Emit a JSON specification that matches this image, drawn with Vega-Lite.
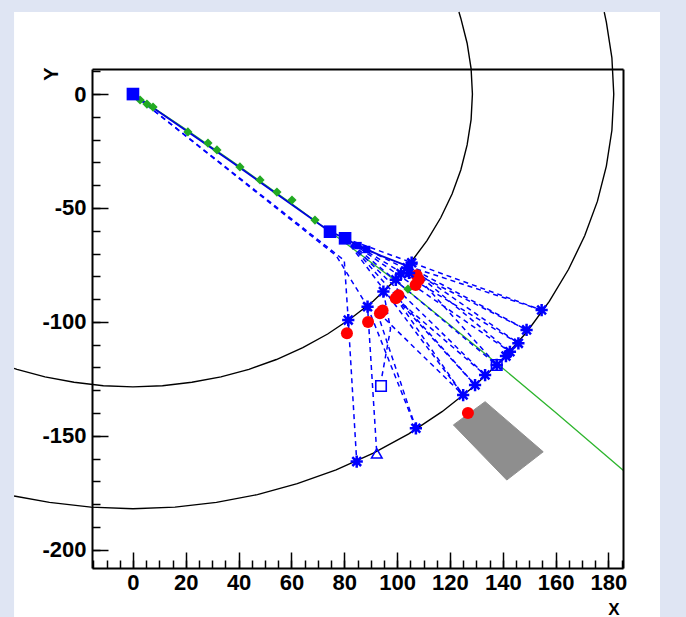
{
  "$schema": "https://vega.github.io/schema/vega-lite/v6.json",
  "width": 531,
  "height": 499,
  "autosize": {"type": "none"},
  "padding": {"left": 92, "top": 69, "right": 63, "bottom": 49},
  "background": "#dfe5f3",
  "config": {"view": {"stroke": null}, "axis": {"grid": false}},
  "resolve": {"axis": {"x": "independent", "y": "independent"}},
  "datasets": {
    "pad": [{"x0": -45, "x1": 199.5, "y0": -240, "y1": 36}],
    "cell": [
      {"i": 0, "x": 121.3, "y": -145.2},
      {"i": 1, "x": 133.3, "y": -135.0},
      {"i": 2, "x": 155.3, "y": -157.0},
      {"i": 3, "x": 141.5, "y": -169.4}
    ],
    "rings": [
      {"r": "in", "i": 0, "x": 123.4, "y": 36},
      {"r": "in", "i": 1, "x": 124.1, "y": 33.3},
      {"r": "in", "i": 2, "x": 126.5, "y": 22.3},
      {"r": "in", "i": 3, "x": 128.0, "y": 11.2},
      {"r": "in", "i": 4, "x": 128.5, "y": 0},
      {"r": "in", "i": 5, "x": 128.0, "y": -11.2},
      {"r": "in", "i": 6, "x": 126.5, "y": -22.3},
      {"r": "in", "i": 7, "x": 124.1, "y": -33.3},
      {"r": "in", "i": 8, "x": 120.8, "y": -43.9},
      {"r": "in", "i": 9, "x": 116.5, "y": -54.3},
      {"r": "in", "i": 10, "x": 111.3, "y": -64.3},
      {"r": "in", "i": 11, "x": 105.3, "y": -73.7},
      {"r": "in", "i": 12, "x": 98.4, "y": -82.6},
      {"r": "in", "i": 13, "x": 90.9, "y": -90.9},
      {"r": "in", "i": 14, "x": 82.6, "y": -98.4},
      {"r": "in", "i": 15, "x": 73.7, "y": -105.3},
      {"r": "in", "i": 16, "x": 64.3, "y": -111.3},
      {"r": "in", "i": 17, "x": 54.3, "y": -116.5},
      {"r": "in", "i": 18, "x": 43.9, "y": -120.8},
      {"r": "in", "i": 19, "x": 33.3, "y": -124.1},
      {"r": "in", "i": 20, "x": 22.3, "y": -126.5},
      {"r": "in", "i": 21, "x": 11.2, "y": -128.0},
      {"r": "in", "i": 22, "x": 0, "y": -128.5},
      {"r": "in", "i": 23, "x": -11.2, "y": -128.0},
      {"r": "in", "i": 24, "x": -22.3, "y": -126.5},
      {"r": "in", "i": 25, "x": -33.3, "y": -124.1},
      {"r": "in", "i": 26, "x": -43.9, "y": -120.8},
      {"r": "in", "i": 27, "x": -45, "y": -120.4},
      {"r": "out", "i": 0, "x": 178.4, "y": 36},
      {"r": "out", "i": 1, "x": 179.2, "y": 31.6},
      {"r": "out", "i": 2, "x": 181.3, "y": 15.9},
      {"r": "out", "i": 3, "x": 182, "y": 0},
      {"r": "out", "i": 4, "x": 181.3, "y": -15.9},
      {"r": "out", "i": 5, "x": 179.2, "y": -31.6},
      {"r": "out", "i": 6, "x": 175.8, "y": -47.1},
      {"r": "out", "i": 7, "x": 171.0, "y": -62.2},
      {"r": "out", "i": 8, "x": 164.9, "y": -76.9},
      {"r": "out", "i": 9, "x": 157.6, "y": -91.0},
      {"r": "out", "i": 10, "x": 149.1, "y": -104.4},
      {"r": "out", "i": 11, "x": 139.4, "y": -117.0},
      {"r": "out", "i": 12, "x": 128.7, "y": -128.7},
      {"r": "out", "i": 13, "x": 117.0, "y": -139.4},
      {"r": "out", "i": 14, "x": 104.4, "y": -149.1},
      {"r": "out", "i": 15, "x": 91.0, "y": -157.6},
      {"r": "out", "i": 16, "x": 76.9, "y": -164.9},
      {"r": "out", "i": 17, "x": 62.2, "y": -171.0},
      {"r": "out", "i": 18, "x": 47.1, "y": -175.8},
      {"r": "out", "i": 19, "x": 31.6, "y": -179.2},
      {"r": "out", "i": 20, "x": 15.9, "y": -181.3},
      {"r": "out", "i": 21, "x": 0, "y": -182},
      {"r": "out", "i": 22, "x": -15.9, "y": -181.3},
      {"r": "out", "i": 23, "x": -31.6, "y": -179.2},
      {"r": "out", "i": 24, "x": -45, "y": -176.4}
    ],
    "green": [
      {"i": 0, "x": 0, "y": 0},
      {"i": 1, "x": 20, "y": -15.5},
      {"i": 2, "x": 40, "y": -31.5},
      {"i": 3, "x": 60, "y": -48},
      {"i": 4, "x": 80, "y": -65},
      {"i": 5, "x": 100, "y": -82.5},
      {"i": 6, "x": 120, "y": -101.3},
      {"i": 7, "x": 140, "y": -120.3},
      {"i": 8, "x": 160, "y": -139.8},
      {"i": 9, "x": 186, "y": -165.5},
      {"i": 10, "x": 195, "y": -174.5}
    ],
    "track": [
      {"i": 0, "x": 0, "y": 0},
      {"i": 1, "x": 37, "y": -29.5},
      {"i": 2, "x": 74.6, "y": -60.4},
      {"i": 3, "x": 80.3, "y": -63.3},
      {"i": 4, "x": 85.2, "y": -66.5},
      {"i": 5, "x": 94, "y": -71},
      {"i": 6, "x": 104, "y": -75.5}
    ],
    "dash": [
      {"s": 1, "i": 0, "x": 0, "y": 0}, {"s": 1, "i": 1, "x": 80, "y": -73}, {"s": 1, "i": 2, "x": 81.5, "y": -99.2}, {"s": 1, "i": 3, "x": 84.7, "y": -161.3},
      {"s": 2, "i": 0, "x": 0, "y": 0}, {"s": 2, "i": 1, "x": 77, "y": -71}, {"s": 2, "i": 2, "x": 88.8, "y": -93.3}, {"s": 2, "i": 3, "x": 92.3, "y": -157.7},
      {"s": 3, "i": 0, "x": 94.8, "y": -86.7}, {"s": 3, "i": 1, "x": 97.5, "y": -103}, {"s": 3, "i": 2, "x": 94, "y": -125.5},
      {"s": 4, "i": 0, "x": 88.8, "y": -93.3}, {"s": 4, "i": 1, "x": 107.1, "y": -146.7},
      {"s": 5, "i": 0, "x": 92.5, "y": -96}, {"s": 5, "i": 1, "x": 107.1, "y": -146.7},
      {"s": 6, "i": 0, "x": 80.3, "y": -63.3}, {"s": 6, "i": 1, "x": 154.7, "y": -94.8},
      {"s": 7, "i": 0, "x": 80.3, "y": -63.3}, {"s": 7, "i": 1, "x": 149.0, "y": -103.5},
      {"s": 8, "i": 0, "x": 80.3, "y": -63.3}, {"s": 8, "i": 1, "x": 145.9, "y": -109.4},
      {"s": 9, "i": 0, "x": 80.3, "y": -63.3}, {"s": 9, "i": 1, "x": 142.7, "y": -113.1},
      {"s": 10, "i": 0, "x": 80.3, "y": -63.3}, {"s": 10, "i": 1, "x": 137.7, "y": -118.9},
      {"s": 11, "i": 0, "x": 80.3, "y": -63.3}, {"s": 11, "i": 1, "x": 133.3, "y": -123.3},
      {"s": 12, "i": 0, "x": 80.3, "y": -63.3}, {"s": 12, "i": 1, "x": 129.5, "y": -127.7},
      {"s": 13, "i": 0, "x": 80.3, "y": -63.3}, {"s": 13, "i": 1, "x": 125.0, "y": -132.1},
      {"s": 14, "i": 0, "x": 104, "y": -75.5}, {"s": 14, "i": 1, "x": 154.7, "y": -94.8},
      {"s": 15, "i": 0, "x": 104, "y": -75.5}, {"s": 15, "i": 1, "x": 149.0, "y": -103.5},
      {"s": 16, "i": 0, "x": 104, "y": -75.5}, {"s": 16, "i": 1, "x": 145.9, "y": -109.4},
      {"s": 17, "i": 0, "x": 104, "y": -75.5}, {"s": 17, "i": 1, "x": 142.7, "y": -113.1},
      {"s": 18, "i": 0, "x": 104, "y": -75.5}, {"s": 18, "i": 1, "x": 137.7, "y": -118.9},
      {"s": 19, "i": 0, "x": 99.5, "y": -89.5}, {"s": 19, "i": 1, "x": 133.3, "y": -123.3},
      {"s": 20, "i": 0, "x": 99.5, "y": -89.5}, {"s": 20, "i": 1, "x": 129.5, "y": -127.7},
      {"s": 21, "i": 0, "x": 99.5, "y": -89.5}, {"s": 21, "i": 1, "x": 125.0, "y": -132.1},
      {"s": 22, "i": 0, "x": 93, "y": -96}, {"s": 22, "i": 1, "x": 125.0, "y": -132.1}
    ],
    "greenpts": [
      {"x": 2.7, "y": -2.6}, {"x": 5.3, "y": -4.4}, {"x": 7.6, "y": -5.7},
      {"x": 20.8, "y": -16.6}, {"x": 28.4, "y": -21.5}, {"x": 31.8, "y": -24.5},
      {"x": 40.5, "y": -32.0}, {"x": 48.1, "y": -37.7}, {"x": 54.5, "y": -43.0},
      {"x": 60.2, "y": -46.5}, {"x": 68.9, "y": -55.3}, {"x": 104.1, "y": -85.6}
    ],
    "red": [
      {"x": 107.4, "y": -79.5}, {"x": 108.2, "y": -81.5}, {"x": 107.0, "y": -83.8}, {"x": 99.5, "y": -89.6}, {"x": 100.5, "y": -88.3},
      {"x": 93.5, "y": -96.2}, {"x": 94.5, "y": -95.0}, {"x": 89.0, "y": -100.0}, {"x": 81.0, "y": -105.0},
      {"x": 126.8, "y": -140.0}
    ],
    "stars": [
      {"x": 105.5, "y": -74}, {"x": 103.8, "y": -76.2}, {"x": 101.5, "y": -78.8}, {"x": 99.5, "y": -81.5}, {"x": 104.5, "y": -78.5},
      {"x": 94.8, "y": -86.7}, {"x": 88.8, "y": -93.3}, {"x": 81.5, "y": -99.2},
      {"x": 154.7, "y": -94.8}, {"x": 149.0, "y": -103.5}, {"x": 145.9, "y": -109.4}, {"x": 142.7, "y": -113.1}, {"x": 141.2, "y": -115.0},
      {"x": 137.7, "y": -118.9}, {"x": 133.3, "y": -123.3}, {"x": 129.5, "y": -127.7}, {"x": 125.0, "y": -132.1},
      {"x": 107.1, "y": -146.7}, {"x": 84.7, "y": -161.3}
    ],
    "squares": [
      {"k": "vtx", "x": 0, "y": 0},
      {"k": "vtx", "x": 74.6, "y": -60.4},
      {"k": "vtx", "x": 80.3, "y": -63.3},
      {"k": "hit", "x": 85.2, "y": -66.5},
      {"k": "hit", "x": 88.5, "y": -68.2}
    ],
    "open": [
      {"k": "box", "x": 93.9, "y": -128.1},
      {"k": "box", "x": 137.7, "y": -118.9},
      {"k": "tri", "x": 92.3, "y": -157.7}
    ]
  },
  "layer": [
    {
      "data": {"name": "pad"},
      "mark": {"type": "rect", "fill": "white", "clip": false},
      "encoding": {
        "x": {"field": "x0", "type": "quantitative", "scale": {"domain": [-15.5, 185.5], "nice": false, "zero": false},
          "axis": {"orient": "bottom", "values": [0, 20, 40, 60, 80, 100, 120, 140, 160, 180], "ticks": false, "domain": true, "domainColor": "black", "domainWidth": 2,
            "labelFont": "Liberation Sans", "labelFontWeight": "bold", "labelFontSize": 22, "labelColor": "black", "labelPadding": 4, "labelFlush": false, "labelOverlap": false,
            "labelExpr": "'' + datum.value",
            "title": "X", "titleFont": "Liberation Sans", "titleFontWeight": "bold", "titleFontSize": 17, "titleColor": "black", "titleAlign": "right", "titleBaseline": "alphabetic", "titleX": 527, "titleY": 46, "zindex": 1}},
        "x2": {"field": "x1"},
        "y": {"field": "y0", "type": "quantitative", "scale": {"domain": [-208, 11], "nice": false, "zero": false},
          "axis": {"orient": "left", "values": [0, -50, -100, -150, -200], "ticks": false, "domain": true, "domainColor": "black", "domainWidth": 2,
            "labelFont": "Liberation Sans", "labelFontWeight": "bold", "labelFontSize": 22, "labelColor": "black", "labelPadding": 6, "labelFlush": false, "labelOverlap": false,
            "labelExpr": "'' + datum.value",
            "title": "Y", "titleFont": "Liberation Sans", "titleFontWeight": "bold", "titleFontSize": 20, "titleColor": "black", "titleAngle": 270, "titleAlign": "right", "titleBaseline": "alphabetic", "titleX": -35, "titleY": -2, "zindex": 1}},
        "y2": {"field": "y1"}
      }
    },
    {
      "data": {"name": "cell"},
      "mark": {"type": "line", "interpolate": "linear-closed", "fill": "#8e8e8e", "stroke": "#8e8e8e", "strokeWidth": 1},
      "encoding": {
        "x": {"field": "x", "type": "quantitative", "scale": {"domain": [-15.5, 185.5], "nice": false, "zero": false},
          "axis": {"orient": "top", "offset": -499, "values": [0, 20, 40, 60, 80, 100, 120, 140, 160, 180], "ticks": true, "tickSize": 16, "tickColor": "black", "tickWidth": 1.5, "labels": false, "domain": false, "title": null, "zindex": 1}},
        "y": {"field": "y", "type": "quantitative", "scale": {"domain": [-208, 11], "nice": false, "zero": false},
          "axis": {"orient": "right", "offset": -531, "values": [0, -50, -100, -150, -200], "ticks": true, "tickSize": 16, "tickColor": "black", "tickWidth": 1.5, "labels": false, "domain": false, "title": null, "zindex": 1}},
        "order": {"field": "i", "type": "quantitative"}
      }
    },
    {
      "data": {"name": "rings"},
      "mark": {"type": "line", "stroke": "black", "strokeWidth": 1.4, "clip": false},
      "encoding": {
        "x": {"field": "x", "type": "quantitative", "scale": {"domain": [-15.5, 185.5], "nice": false, "zero": false},
          "axis": {"orient": "top", "offset": -499, "values": [-15, -10, -5, 0, 5, 10, 15, 20, 25, 30, 35, 40, 45, 50, 55, 60, 65, 70, 75, 80, 85, 90, 95, 100, 105, 110, 115, 120, 125, 130, 135, 140, 145, 150, 155, 160, 165, 170, 175, 180, 185], "ticks": true, "tickSize": 8, "tickColor": "black", "tickWidth": 1.5, "labels": false, "domain": false, "title": null, "zindex": 1}},
        "y": {"field": "y", "type": "quantitative", "scale": {"domain": [-208, 11], "nice": false, "zero": false},
          "axis": {"orient": "right", "offset": -531, "values": [10, 0, -10, -20, -30, -40, -50, -60, -70, -80, -90, -100, -110, -120, -130, -140, -150, -160, -170, -180, -190, -200], "ticks": true, "tickSize": 8, "tickColor": "black", "tickWidth": 1.5, "labels": false, "domain": false, "title": null, "zindex": 1}},
        "detail": {"field": "r"},
        "order": {"field": "i", "type": "quantitative"}
      }
    },
    {
      "data": {"name": "green"},
      "mark": {"type": "line", "stroke": "#2db52d", "strokeWidth": 1.3, "clip": true},
      "encoding": {
        "x": {"field": "x", "type": "quantitative", "scale": {"domain": [-15.5, 185.5], "nice": false, "zero": false},
          "axis": {"orient": "top", "offset": 0, "ticks": false, "labels": false, "domain": true, "domainColor": "black", "domainWidth": 2, "title": null, "zindex": 1}},
        "y": {"field": "y", "type": "quantitative", "scale": {"domain": [-208, 11], "nice": false, "zero": false},
          "axis": {"orient": "right", "offset": 0, "ticks": false, "labels": false, "domain": true, "domainColor": "black", "domainWidth": 2, "title": null, "zindex": 1}},
        "order": {"field": "i", "type": "quantitative"}
      }
    },
    {
      "data": {"name": "dash"},
      "mark": {"type": "line", "stroke": "#0000ff", "strokeWidth": 1.5, "strokeDash": [5, 4]},
      "encoding": {
        "x": {"field": "x", "type": "quantitative", "scale": {"domain": [-15.5, 185.5], "nice": false, "zero": false}, "axis": null},
        "y": {"field": "y", "type": "quantitative", "scale": {"domain": [-208, 11], "nice": false, "zero": false}, "axis": null},
        "detail": {"field": "s"},
        "order": {"field": "i", "type": "quantitative"}
      }
    },
    {
      "data": {"name": "track"},
      "mark": {"type": "line", "stroke": "#0000dd", "strokeWidth": 1.8},
      "encoding": {
        "x": {"field": "x", "type": "quantitative", "scale": {"domain": [-15.5, 185.5], "nice": false, "zero": false}, "axis": null},
        "y": {"field": "y", "type": "quantitative", "scale": {"domain": [-208, 11], "nice": false, "zero": false}, "axis": null},
        "order": {"field": "i", "type": "quantitative"}
      }
    },
    {
      "data": {"name": "greenpts"},
      "mark": {"type": "point", "shape": "diamond", "filled": true, "color": "#22aa22", "size": 85, "opacity": 1},
      "encoding": {
        "x": {"field": "x", "type": "quantitative", "scale": {"domain": [-15.5, 185.5], "nice": false, "zero": false}, "axis": null},
        "y": {"field": "y", "type": "quantitative", "scale": {"domain": [-208, 11], "nice": false, "zero": false}, "axis": null}
      }
    },
    {
      "data": {"name": "red"},
      "mark": {"type": "point", "shape": "circle", "filled": true, "color": "#ff0000", "size": 145, "opacity": 1},
      "encoding": {
        "x": {"field": "x", "type": "quantitative", "scale": {"domain": [-15.5, 185.5], "nice": false, "zero": false}, "axis": null},
        "y": {"field": "y", "type": "quantitative", "scale": {"domain": [-208, 11], "nice": false, "zero": false}, "axis": null}
      }
    },
    {
      "data": {"name": "stars"},
      "mark": {"type": "point", "shape": "M-1,0L1,0M0,-1L0,1M-0.72,-0.72L0.72,0.72M-0.72,0.72L0.72,-0.72", "filled": false, "stroke": "#0000ff", "strokeWidth": 2.5, "size": 150, "opacity": 1},
      "encoding": {
        "x": {"field": "x", "type": "quantitative", "scale": {"domain": [-15.5, 185.5], "nice": false, "zero": false}, "axis": null},
        "y": {"field": "y", "type": "quantitative", "scale": {"domain": [-208, 11], "nice": false, "zero": false}, "axis": null}
      }
    },
    {
      "data": {"name": "squares"},
      "mark": {"type": "point", "shape": "square", "filled": true, "color": "#0000ff", "opacity": 1},
      "encoding": {
        "x": {"field": "x", "type": "quantitative", "scale": {"domain": [-15.5, 185.5], "nice": false, "zero": false}, "axis": null},
        "y": {"field": "y", "type": "quantitative", "scale": {"domain": [-208, 11], "nice": false, "zero": false}, "axis": null},
        "size": {"field": "k", "type": "nominal", "scale": {"domain": ["vtx", "hit"], "range": [160, 55]}, "legend": null}
      }
    },
    {
      "data": {"name": "open"},
      "mark": {"type": "point", "filled": false, "stroke": "#0000ff", "strokeWidth": 1.6, "size": 110, "opacity": 1},
      "encoding": {
        "x": {"field": "x", "type": "quantitative", "scale": {"domain": [-15.5, 185.5], "nice": false, "zero": false}, "axis": null},
        "y": {"field": "y", "type": "quantitative", "scale": {"domain": [-208, 11], "nice": false, "zero": false}, "axis": null},
        "shape": {"field": "k", "type": "nominal", "scale": {"domain": ["box", "tri"], "range": ["square", "triangle-up"]}, "legend": null}
      }
    }
  ]
}
